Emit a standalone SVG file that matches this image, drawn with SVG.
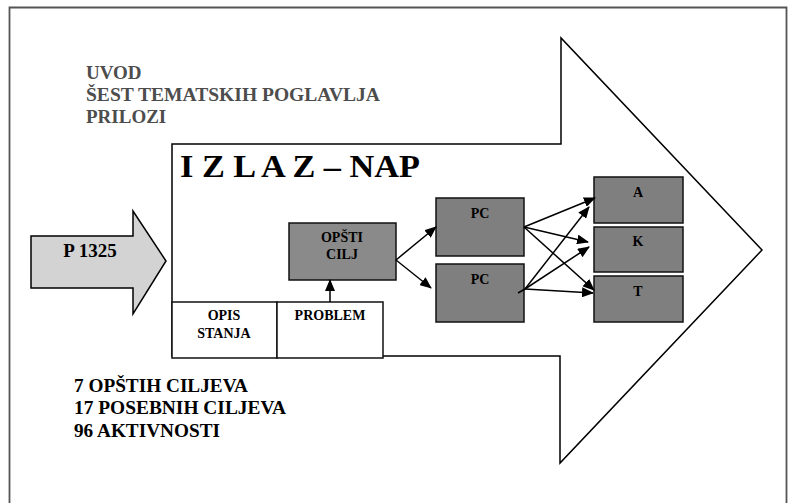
<svg xmlns="http://www.w3.org/2000/svg" width="788" height="503" viewBox="0 0 788 503">
<style>
.ln{fill:none;stroke:#000;stroke-width:1.5}
.con{fill:none;stroke:#000;stroke-width:1.5;marker-end:url(#ah)}
.box{stroke:#111;stroke-width:1.5}
.dk{fill:#7f7f7f}
.t{font-family:"Liberation Serif","Times New Roman",serif;font-weight:bold;fill:#000}
.lbl{font-size:14px;text-anchor:middle}
</style>
<defs>
<marker id="ah" markerUnits="userSpaceOnUse" markerWidth="12" markerHeight="10" refX="11" refY="5" orient="auto">
<path d="M0,0 L12,5 L0,10 Z" fill="#000"/>
</marker>
</defs>
<rect x="0" y="0" width="788" height="503" fill="#fff"/>
<path d="M9.5,515 V7.5 H786.5 V515" fill="none" stroke="#555" stroke-width="1.8"/>

<g id="top-text" class="t" style="font-size:19px;fill:#4d4d4d">
<text x="86" y="79">UVOD</text>
<text x="86" y="101" textLength="294" lengthAdjust="spacingAndGlyphs">ŠEST TEMATSKIH POGLAVLJA</text>
<text x="86" y="123">PRILOZI</text>
</g>

<g id="big-arrow">
<path d="M172,144 H561 V38 L762,250 L560,463 V356 H172 Z" fill="#fff" stroke="#000" stroke-width="1.5"/>
<text class="t" x="180" y="177" style="font-size:31px" textLength="240" lengthAdjust="spacingAndGlyphs">I Z L A Z – NAP</text>
</g>

<g id="p1325">
<path d="M31,236 H133 V211 L166,261 L133,314 V288 H31 Z" fill="#d3d3d3" stroke="#000" stroke-width="1.5"/>
<text class="t" x="90" y="257" style="font-size:19px" text-anchor="middle">P 1325</text>
</g>

<g id="opis-stanja">
<rect x="172" y="302" width="105" height="56" fill="#fff" class="box"/>
<text class="t lbl" x="224" y="320">OPIS</text>
<text class="t lbl" x="224" y="338">STANJA</text>
</g>
<g id="problem">
<rect x="277" y="302" width="106" height="56" fill="#fff" class="box"/>
<text class="t lbl" x="330" y="320">PROBLEM</text>
</g>

<g id="opsti-cilj">
<rect x="289" y="223" width="107" height="57" fill="#8a8a8a" class="box"/>
<text class="t lbl" x="342" y="242">OPŠTI</text>
<text class="t lbl" x="342" y="259">CILJ</text>
</g>

<g id="pc1">
<rect x="436" y="198" width="88" height="58" class="box dk"/>
<text class="t lbl" x="480" y="218">PC</text>
</g>
<g id="pc2">
<rect x="436" y="264" width="88" height="58" class="box dk"/>
<text class="t lbl" x="480" y="284">PC</text>
</g>

<g id="a">
<rect x="594" y="177" width="89" height="46" class="box dk"/>
<text class="t lbl" x="638" y="197">A</text>
</g>
<g id="k">
<rect x="594" y="227" width="89" height="45" class="box dk"/>
<text class="t lbl" x="638" y="246">K</text>
</g>
<g id="t">
<rect x="594" y="276" width="89" height="46" class="box dk"/>
<text class="t lbl" x="638" y="296">T</text>
</g>

<g id="connectors">
<line class="con" x1="330" y1="302" x2="330" y2="280"/>
<line class="con" x1="396" y1="260" x2="436" y2="227"/>
<line class="con" x1="396" y1="260" x2="431" y2="288"/>
<line class="con" x1="524" y1="227" x2="595" y2="198"/>
<line class="con" x1="524" y1="227" x2="588" y2="242"/>
<line class="con" x1="524" y1="227" x2="594" y2="290"/>
<line class="ln" x1="518" y1="293" x2="525" y2="289"/>
<line class="con" x1="525" y1="289" x2="589" y2="207"/>
<line class="con" x1="525" y1="289" x2="589" y2="247"/>
<line class="con" x1="525" y1="289" x2="593" y2="293"/>
</g>

<g id="bottom-text" class="t" style="font-size:19px">
<text x="74" y="392" textLength="174" lengthAdjust="spacingAndGlyphs">7 OPŠTIH CILJEVA</text>
<text x="74" y="414" textLength="212" lengthAdjust="spacingAndGlyphs">17 POSEBNIH CILJEVA</text>
<text x="74" y="437" textLength="146" lengthAdjust="spacingAndGlyphs">96 AKTIVNOSTI</text>
</g>
</svg>
